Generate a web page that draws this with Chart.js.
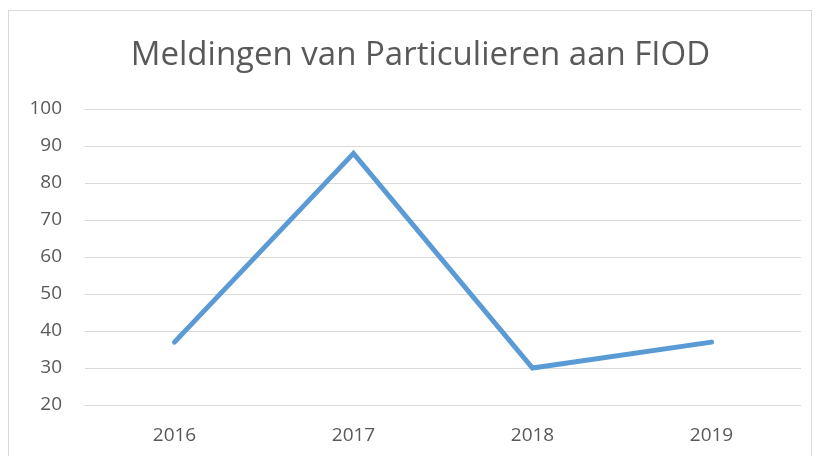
<!DOCTYPE html>
<html>
<head>
<meta charset="utf-8">
<script src="https://cdn.jsdelivr.net/npm/chart.js@4/dist/chart.umd.min.js"></script>
<style>
  html, body { margin: 0; padding: 0; background: #fff; overflow: hidden; }
  #wrap { position: relative; width: 818px; height: 456px; }
</style>
</head>
<body>
<div id="wrap"><canvas id="c" width="818" height="456"></canvas></div>
<script>
// data
const years = ['2016', '2017', '2018', '2019']
const meldingen = [37, 88, 30, 37]
const yMin = 20
const yMax = 100
const yStep = 10
const titleText = 'Meldingen van Particulieren aan FIOD'

const FONT = "'Open Sans', sans-serif"
const TEXT = '#595959'

// light gray frame + title (title sits a bit right of the plot centre, as in the export)
const framePlugin = {
  id: 'frame',
  beforeDraw(chart) {
    const ctx = chart.ctx
    ctx.save()
    ctx.strokeStyle = '#d9d9d9'
    ctx.lineWidth = 1
    ctx.strokeRect(8.5, 10.5, 803, 480)
    ctx.fillStyle = TEXT
    ctx.font = `33px ${FONT}`
    ctx.textAlign = 'center'
    ctx.textBaseline = 'alphabetic'
    ctx.fillText(titleText, 420.5, 65)
    ctx.restore()
  }
}

new Chart(document.getElementById('c'), {
  type: 'line',
  data: {
    labels: years,
    datasets: [{
      data: meldingen,
      borderColor: '#5b9bd5',
      borderWidth: 5,
      borderCapStyle: 'round',
      borderJoinStyle: 'miter',
      pointRadius: 0,
      tension: 0,
      fill: false,
    }],
  },
  options: {
    responsive: false,
    animation: false,
    layout: { padding: { left: 0, right: 17, top: 109, bottom: 0 } },
    plugins: {
      legend: { display: false },
      tooltip: { enabled: false },
      title: { display: false },
    },
    scales: {
      x: {
        offset: true,
        grid: { display: false, drawTicks: false },
        border: { display: false },
        ticks: { color: TEXT, font: { family: FONT, size: 19 }, padding: 19 },
        afterFit(scale) { scale.height = 51 },
      },
      y: {
        min: yMin,
        max: yMax,
        grid: { color: '#d9d9d9', lineWidth: 1, drawTicks: false },
        border: { display: false },
        ticks: { stepSize: yStep, color: TEXT, font: { family: FONT, size: 19 }, padding: 23 },
        afterFit(scale) { scale.width = 85 },
      },
    },
  },
  plugins: [framePlugin],
})
</script>
</body>
</html>
